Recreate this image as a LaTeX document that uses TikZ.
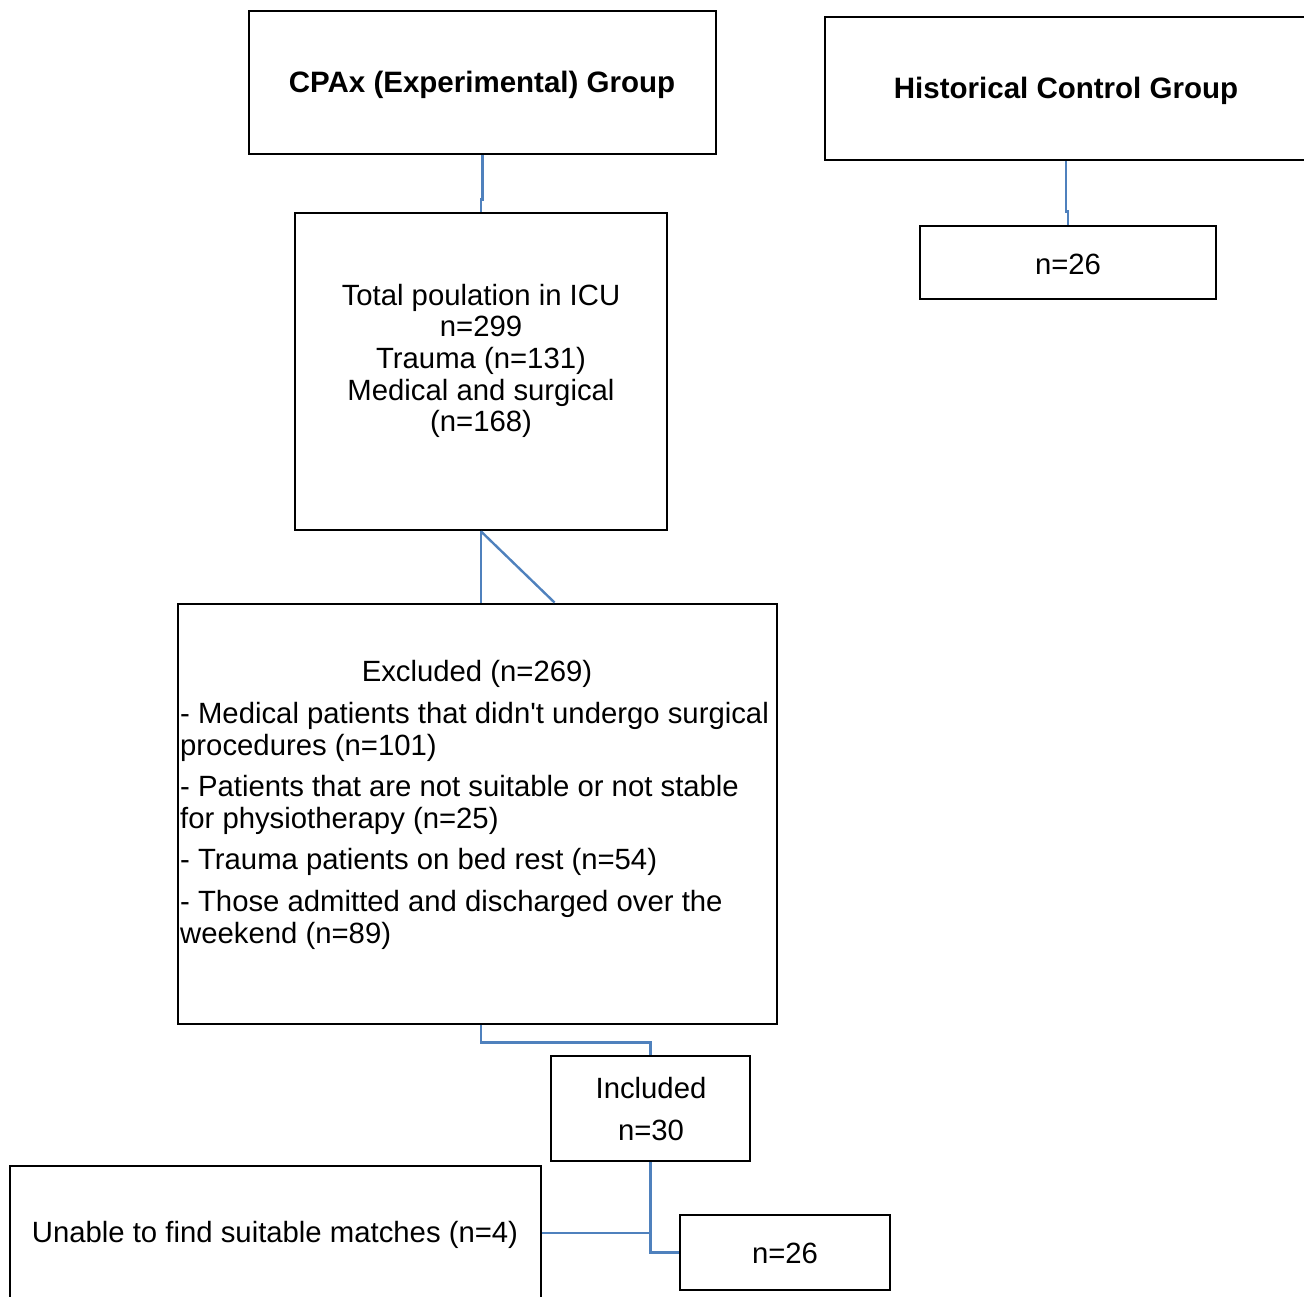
\documentclass[tikz,border=0pt]{standalone}
\usepackage{fontspec}
\setmainfont{Liberation Sans}
\usetikzlibrary{calc}
\definecolor{lineBlue}{HTML}{4F81BD}

\begin{document}
\begin{tikzpicture}[x=1pt, y=-1pt,
    box/.style={draw, line width=2.8pt, inner sep=0pt},
    link/.style={draw=lineBlue, line width=2.4pt},
    txt/.style={font=\fontsize{29.3}{31.6}\selectfont, inner sep=0pt, align=center},
    head/.style={txt, font=\fontsize{29.5}{31.6}\selectfont\bfseries}]
  \useasboundingbox (0,0) rectangle (1304,1296);
  \clip (0,0) rectangle (1304,1296);

  % boxes
  \node[box, minimum width=467pt, minimum height=143pt] (cpax) at (482.5,82.5) {};
  \node[box, minimum width=482pt, minimum height=143pt] (hist) at (1066,88.5) {};
  \node[box, minimum width=372pt, minimum height=317pt] (total) at (481,371.5) {};
  \node[box, minimum width=296pt, minimum height=73pt] (histn) at (1068,262.5) {};
  \node[box, minimum width=599pt, minimum height=420pt] (excl) at (477.5,814) {};
  \node[box, minimum width=199pt, minimum height=105pt] (incl) at (650.5,1108.5) {};
  \node[box, minimum width=531pt, minimum height=134pt] (unable) at (275.5,1233) {};
  \node[box, minimum width=210pt, minimum height=75pt] (incln) at (785,1252.5) {};

  % texts
  \node[head] (cpax-txt) at (482,85) {CPAx (Experimental) Group};
  \node[head] (hist-txt) at (1066,91) {Historical Control Group};
  \node[txt] (total-txt) at (481,361) {Total poulation in ICU\\n=299\\Trauma (n=131)\\Medical and surgical\\(n=168)};
  \node[txt] (histn-txt) at (1068,264) {n=26};
  \node[txt] (excl-head) at (477,674) {Excluded (n=269)};
  \node[txt, align=left, anchor=north west] (excl-txt) at (180,702) {%
    - Medical patients that didn\textquotesingle t undergo surgical\\procedures (n=101)\\[10pt]
    - Patients that are not suitable or not stable\\for physiotherapy (n=25)\\[10pt]
    - Trauma patients on bed rest (n=54)\\[10pt]
    - Those admitted and discharged over the\\weekend (n=89)};
  \node[txt] (incl-txt) at (651,1109) {Included\\[10pt]n=30};
  \node[txt] (unable-txt) at (275,1235) {Unable to find suitable matches (n=4)};
  \node[txt] (incln-txt) at (785,1253) {n=26};

  % connectors
  \draw[link] (cpax.south) -- ++(0,44) -| (total.north);
  \draw[link] (hist.south) -- ++(0,50) -| (histn.north);
  \coordinate (diag) at ($(excl.north west)+(378,0)$);
  \draw[link] (total.south) -- (total.south |- excl.north);
  \draw[link] (total.south) -- (diag);
  \draw[link] (total.south |- excl.south) -- ++(0,17) -| (incl.north);
  \draw[link] (incl.south) |- (incln.west);
  \draw[link] (unable.east) -- (unable.east -| incl.south);
\end{tikzpicture}
\end{document}
